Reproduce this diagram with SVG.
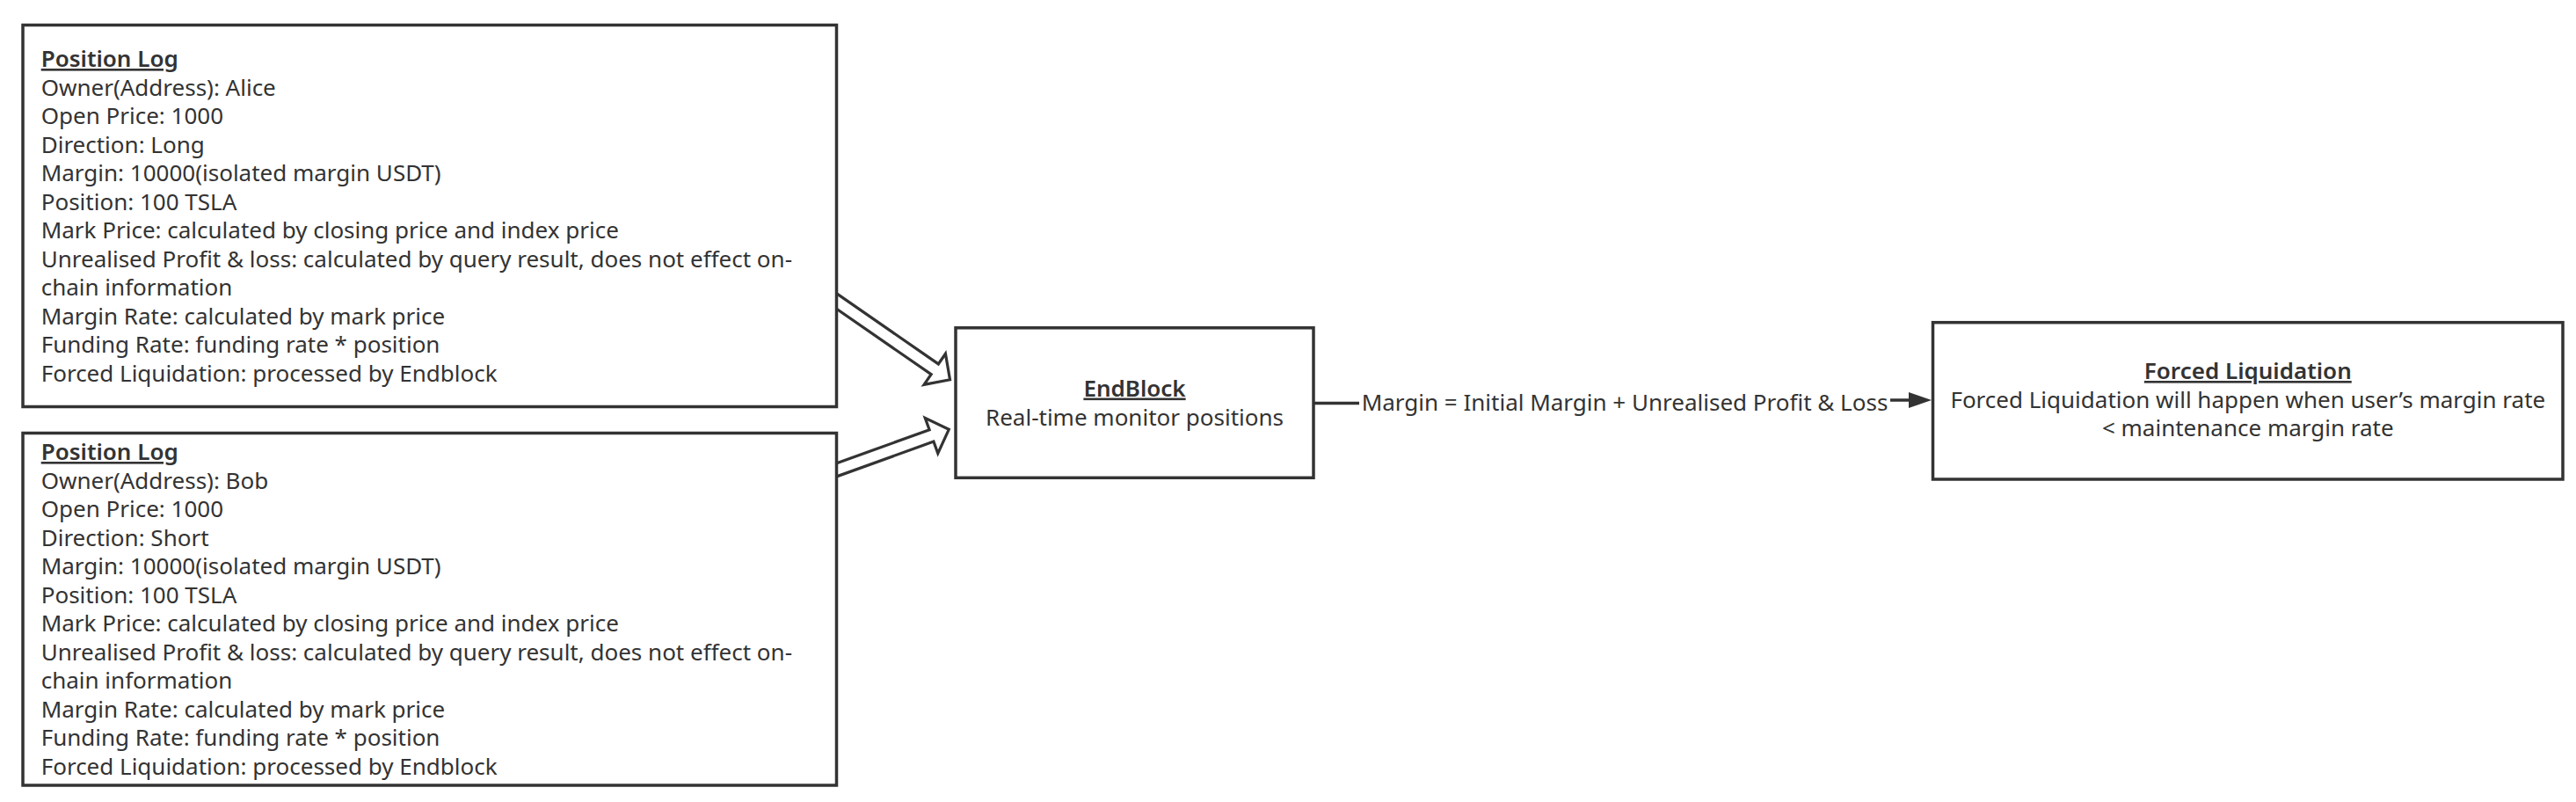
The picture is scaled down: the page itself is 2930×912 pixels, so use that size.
<svg xmlns="http://www.w3.org/2000/svg" width="2930" height="912" viewBox="0 0 2930 912">
<style>
.box{fill:#ffffff;stroke:#333333;stroke-width:3.5}
.t{font-family:"Noto Sans","Liberation Sans",Arial,sans-serif;font-size:26px;fill:#333333}
.h{font-weight:600;text-decoration:underline}
.c{text-anchor:middle}
.flex{fill:#ffffff;stroke:#333333;stroke-width:3.2;stroke-linejoin:miter}
.edge{fill:none;stroke:#333333;stroke-width:3.5}
</style>
<defs>
<marker id="arr" markerUnits="userSpaceOnUse" markerWidth="30" markerHeight="20" refX="0" refY="9" orient="auto" viewBox="0 0 30 20">
<path d="M0,0 L26,9 L0,18 Z" fill="#333333"/>
</marker>
</defs>
<rect width="2930" height="912" fill="#ffffff"/>
<g id="connectors">
<g transform="translate(952,342.8) rotate(34.7)"><path class="flex" d="M-14,-7.2 H135.3 V-21.4 L156.3,0 L135.3,21.4 V7.2 H-14"/></g>
<g transform="translate(952,534.2) rotate(-19.83)"><path class="flex" d="M-14,-7.1 H114.3 V-21.4 L135.3,0 L114.3,21.4 V7.1 H-14"/></g>
<path class="edge" d="M1494,458.5 H1848 V455 H2171" marker-end="url(#arr)"/>
<rect x="1546" y="440" width="604" height="34" fill="#ffffff"/>
<text class="t c" x="1848" y="467">Margin = Initial Margin + Unrealised Profit &amp; Loss</text>
</g>
<g id="position-log-alice">
<rect class="box" x="26" y="28.5" width="925.5" height="434"/>
<text class="t" x="46.7" y="76"><tspan class="h">Position Log</tspan><tspan x="46.7" dy="32.5">Owner(Address): Alice</tspan><tspan x="46.7" dy="32.5">Open Price: 1000</tspan><tspan x="46.7" dy="32.5">Direction: Long</tspan><tspan x="46.7" dy="32.5">Margin: 10000(isolated margin USDT)</tspan><tspan x="46.7" dy="32.5">Position: 100 TSLA</tspan><tspan x="46.7" dy="32.5">Mark Price: calculated by closing price and index price</tspan><tspan x="46.7" dy="32.5">Unrealised Profit &amp; loss: calculated by query result, does not effect on-</tspan><tspan x="46.7" dy="32.5">chain information</tspan><tspan x="46.7" dy="32.5">Margin Rate: calculated by mark price</tspan><tspan x="46.7" dy="32.5">Funding Rate: funding rate * position</tspan><tspan x="46.7" dy="32.5">Forced Liquidation: processed by Endblock</tspan></text>
</g>
<g id="position-log-bob">
<rect class="box" x="26" y="492.5" width="925.5" height="400.5"/>
<text class="t" x="46.7" y="523"><tspan class="h">Position Log</tspan><tspan x="46.7" dy="32.5">Owner(Address): Bob</tspan><tspan x="46.7" dy="32.5">Open Price: 1000</tspan><tspan x="46.7" dy="32.5">Direction: Short</tspan><tspan x="46.7" dy="32.5">Margin: 10000(isolated margin USDT)</tspan><tspan x="46.7" dy="32.5">Position: 100 TSLA</tspan><tspan x="46.7" dy="32.5">Mark Price: calculated by closing price and index price</tspan><tspan x="46.7" dy="32.5">Unrealised Profit &amp; loss: calculated by query result, does not effect on-</tspan><tspan x="46.7" dy="32.5">chain information</tspan><tspan x="46.7" dy="32.5">Margin Rate: calculated by mark price</tspan><tspan x="46.7" dy="32.5">Funding Rate: funding rate * position</tspan><tspan x="46.7" dy="32.5">Forced Liquidation: processed by Endblock</tspan></text>
</g>
<g id="endblock">
<rect class="box" x="1087" y="372.8" width="407" height="170.5"/>
<text class="t c h" x="1290.5" y="450.5">EndBlock</text>
<text class="t c" x="1290.5" y="483.5">Real-time monitor positions</text>
</g>
<g id="forced-liquidation">
<rect class="box" x="2198.5" y="366.7" width="716.5" height="178.3"/>
<text class="t c h" x="2556.8" y="431">Forced Liquidation</text>
<text class="t c" x="2556.8" y="463.5">Forced Liquidation will happen when user’s margin rate</text>
<text class="t c" x="2556.8" y="496">&lt; maintenance margin rate</text>
</g>
</svg>
